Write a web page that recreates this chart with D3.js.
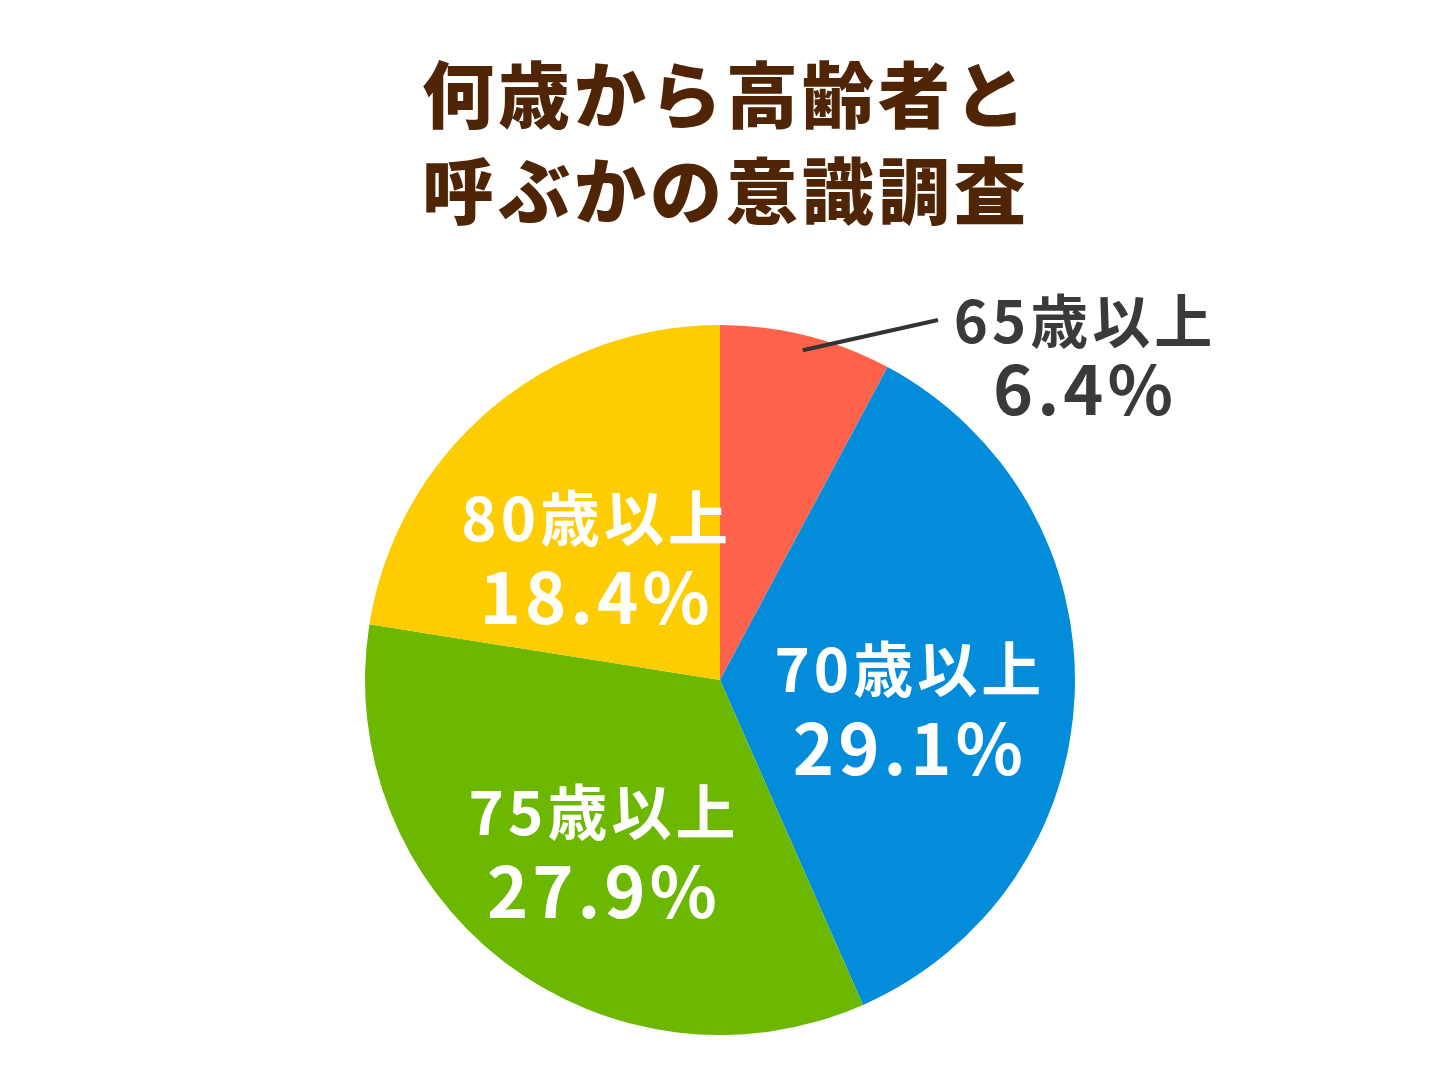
<!DOCTYPE html><html><head><meta charset="utf-8">
<script src="https://cdn.jsdelivr.net/npm/d3@7"></script>
<style>body{margin:0;background:#fff}</style></head><body>
<svg id="c" width="1452" height="1089"></svg>
<script>
const categories=["65歳以上","70歳以上","75歳以上","80歳以上"];
const values=[6.4,29.1,27.9,18.4];
const colors=["#FF624A","#038CD9","#6CB800","#FDCC01"];
const titleLines=["何歳から高齢者と","呼ぶかの意識調査"];
const svg=d3.select("#c");
const font="'Noto Sans CJK JP','Noto Sans',sans-serif";
svg.selectAll("text.t").data(titleLines).join("text").attr("x",726).attr("y",(d,i)=>122+i*96)
 .attr("text-anchor","middle").attr("font-family",font).attr("font-weight",900).attr("font-size",72)
 .attr("fill","#4F2506").attr("letter-spacing",4).text(d=>d);
const cx=720,cy=680,R=355;
const g=svg.append("g").attr("transform",`translate(${cx},${cy})`);
const pie=d3.pie().sort(null).value(d=>d)(values);
const arc=d3.arc().innerRadius(0).outerRadius(R);
g.selectAll("path").data(pie).join("path").attr("d",arc).attr("fill",(d,i)=>colors[i]);
const lab=d3.arc().innerRadius(190).outerRadius(190);
pie.forEach((d,i)=>{
  const t=g.append("text").attr("font-family",font).attr("font-weight",700).attr("letter-spacing",4);
  if(i===0){
    const m=(d.startAngle+d.endAngle)/2, p=[Math.sin(m)*340,-Math.cos(m)*340];
    g.append("line").attr("x1",p[0]).attr("y1",p[1]).attr("x2",218).attr("y2",-360).attr("stroke","#333").attr("stroke-width",4);
    t.attr("fill","#3a3a3a").attr("text-anchor","middle");
    t.append("tspan").attr("x",365).attr("y",-337).attr("font-size",58).text(categories[i]);
    t.append("tspan").attr("x",365).attr("y",-265).attr("font-size",68).text(values[i].toFixed(1)+"%");
  } else {
    const [x,y]=lab.centroid(d);
    t.attr("fill","#fff").attr("text-anchor","middle");
    t.append("tspan").attr("x",x).attr("y",y+5).attr("font-size",60).text(categories[i]);
    t.append("tspan").attr("x",x).attr("y",y+88).attr("font-size",70).text(values[i].toFixed(1)+"%");
  }
});
</script></body></html>
